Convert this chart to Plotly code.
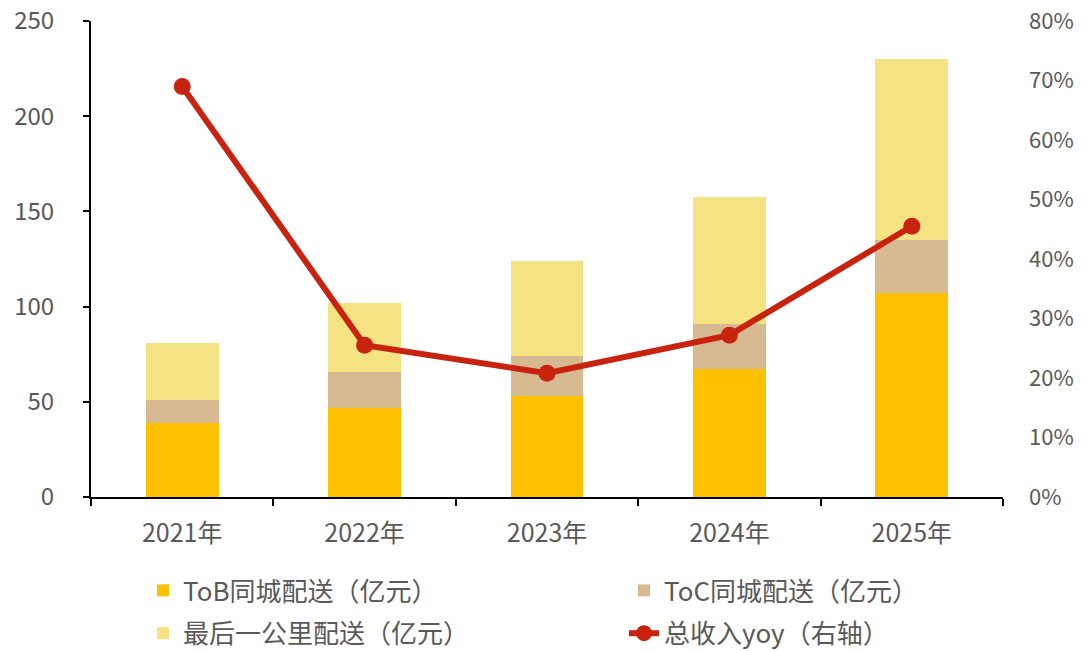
import plotly.graph_objects as go

# Categories and series (亿元 for bars, ratio for yoy line)
years = ["2021年", "2022年", "2023年", "2024年", "2025年"]
tob = [39, 46.5, 53, 67, 107]
toc = [12, 19, 21, 24, 28]
last_mile = [30, 36.5, 50, 66.5, 95]
yoy = [0.69, 0.255, 0.208, 0.272, 0.455]

left_ticks = [0, 50, 100, 150, 200, 250]
right_ticks = [0, 0.1, 0.2, 0.3, 0.4, 0.5, 0.6, 0.7, 0.8]

GRAY = "#595959"
FONT = "Noto Sans CJK SC, Roboto, sans-serif"

PLOT_L, PLOT_R = 91, 1003

fig = go.Figure()
fig.add_trace(go.Bar(x=years, y=tob, name="ToB同城配送（亿元）",
                     marker=dict(color="#FFC000", line=dict(width=0)),
                     legend="legend", legendgroup="a"))
fig.add_trace(go.Bar(x=years, y=toc, name="ToC同城配送（亿元）",
                     marker=dict(color="#D7BA91", line=dict(width=0)),
                     legend="legend2", legendgroup="c"))
fig.add_trace(go.Bar(x=years, y=last_mile, name="最后一公里配送（亿元）",
                     marker=dict(color="#F5E383", line=dict(width=0)),
                     legend="legend", legendgroup="b"))
fig.add_trace(go.Scatter(x=years, y=yoy, name="总收入yoy（右轴）", yaxis="y2",
                         mode="lines+markers",
                         line=dict(color="#C8230F", width=6),
                         marker=dict(color="#C8230F", size=17),
                         legend="legend2", legendgroup="d"))

legend_common = dict(
    orientation="v", xanchor="left", yanchor="top",
    xref="paper", yref="container",
    font=dict(family=FONT, size=26, color=GRAY),
    bgcolor="rgba(0,0,0,0)", tracegroupgap=6, traceorder="grouped",
)


def px_to_paper(px):
    return (px - PLOT_L) / (PLOT_R - PLOT_L)


fig.update_layout(
    width=1081, height=651,
    margin=dict(l=PLOT_L, r=1081 - PLOT_R, t=21, b=154),
    paper_bgcolor="white", plot_bgcolor="white",
    barmode="stack", bargap=0.6,
    font=dict(family=FONT, size=20, color=GRAY),
    showlegend=True,
    legend=dict(x=px_to_paper(143), y=1 - 567 / 651, **legend_common),
    legend2=dict(x=px_to_paper(624), y=1 - 567 / 651, **legend_common),
    xaxis=dict(
        type="category", showline=True, linecolor="black", linewidth=2,
        ticks="outside", tickson="boundaries", ticklen=7, tickwidth=2,
        tickcolor="black", showgrid=False, zeroline=False, automargin=False,
        ticklabelstandoff=13, tickangle=0,
        tickfont=dict(family=FONT, size=25, color=GRAY),
    ),
    yaxis=dict(
        range=[0, 250], tickvals=left_ticks, showline=True, linecolor="black",
        linewidth=2, ticks="outside", ticklen=6, tickwidth=2, tickcolor="black",
        showgrid=False, zeroline=False, ticklabelstandoff=24, automargin=False,
        tickfont=dict(family=FONT, size=24, color=GRAY),
    ),
    yaxis2=dict(
        range=[0, 0.8], tickvals=right_ticks, tickformat=".0%", overlaying="y",
        side="right", showline=False, showgrid=False, zeroline=False,
        ticks="", ticklabelstandoff=25, automargin=False,
        tickfont=dict(family=FONT, size=22, color=GRAY),
    ),
)

fig.write_html("out.html")
